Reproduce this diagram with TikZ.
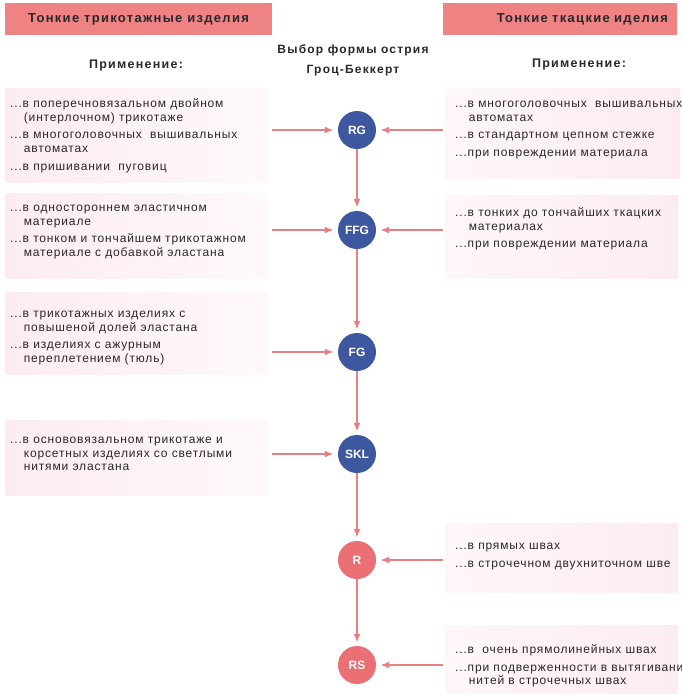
\documentclass[tikz,border=0pt]{standalone}
\usepackage{fontspec}
\setmainfont{Liberation Sans}
\newfontfamily\bodyf[LetterSpace=7]{Liberation Sans}
\newfontfamily\headf[LetterSpace=10]{Liberation Sans}
\usetikzlibrary{arrows.meta}
\definecolor{hdrpink}{RGB}{239,131,131}
\definecolor{boxpink}{RGB}{252,236,240}
\definecolor{cblue}{RGB}{62,88,160}
\definecolor{cpink}{RGB}{234,112,117}
\definecolor{arrc}{RGB}{232,128,130}
\definecolor{txtc}{RGB}{40,40,45}
\newcommand\ind{\hphantom{...}\,}
\newcommand\fl{\rule{0pt}{9pt}}
\begin{document}
\begin{tikzpicture}[x=1pt,y=-1pt,
  hdrbox/.style={fill=hdrpink, minimum height=32pt, inner sep=0pt, font=\headf\bfseries\fontsize{13}{15}\selectfont, text=txtc},
  ttl/.style={font=\headf\bfseries\fontsize{12.5}{15}\selectfont, text=txtc, inner sep=0pt},
  txt/.style={font=\bodyf\fontsize{12}{13.8}\selectfont, align=left, inner sep=0pt, anchor=north west, text=txtc},
  lbox/.style={left color=boxpink, right color=boxpink!35!white},
  rbox/.style={right color=boxpink, left color=boxpink!45!white},
  circ/.style={circle, minimum size=38pt, inner sep=0pt, text=white, font=\bfseries\fontsize{12}{14}\selectfont},
  arr/.style={draw=arrc, line width=1.8pt, -{Latex[length=9pt,width=7pt]}, shorten >=4pt}
]
\useasboundingbox (0,0) rectangle (682,699);
\fill[white] (0,0) rectangle (682,699);

% headers
\node[hdrbox, minimum width=267pt] (hl) at (138.5,19) {Тонкие трикотажные изделия};
\node[hdrbox, text width=216pt, inner xsep=9pt, align=right] (hr) at (560,19) {Тонкие ткацкие иделия};
\node[ttl, align=center, font=\headf\bfseries\fontsize{12}{20}\selectfont] (title) at (353,60) {Выбор формы острия\\Гроц-Беккерт};
\node[ttl] (apl) at (136,65) {Применение:};
\node[ttl] (apr) at (579,64) {Применение:};

% background boxes
\fill[lbox] (5,88) rectangle (268,182);
\fill[lbox] (5,193) rectangle (268,278);
\fill[lbox] (5,292) rectangle (268,374);
\fill[lbox] (5,420) rectangle (268,495);
\fill[rbox] (445,88) rectangle (680,178);
\fill[rbox] (445,195) rectangle (678,278);
\fill[rbox] (445,523) rectangle (678,592);
\fill[rbox] (445,625) rectangle (678,693);

% left texts
\node[txt] (l1) at (10,98) {\fl...в поперечновязальном двойном\\\ind(интерлочном) трикотаже\\[4pt]...в многоголовочных\ \ вышивальных\\\ind автоматах\\[4pt]...в пришивании\ \ пуговиц};
\node[txt] (l2) at (10,202) {\fl...в одностороннем эластичном\\\ind материале\\[4pt]...в тонком и тончайшем трикотажном\\\ind материале с добавкой эластана};
\node[txt] (l3) at (10,308) {\fl...в трикотажных изделиях с\\\ind повышеной долей эластана\\[4pt]...в изделиях с ажурным\\\ind переплетением (тюль)};
\node[txt] (l4) at (10,434) {\fl...в основовязальном трикотаже и\\\ind корсетных изделиях со светлыми\\\ind нитями эластана};

% right texts
\node[txt] (r1) at (455,98) {\fl...в многоголовочных\ \ вышивальных\\\ind автоматах\\[4pt]...в стандартном цепном стежке\\[4pt]...при повреждении материала};
\node[txt] (r2) at (455,207) {\fl...в тонких до тончайших ткацких\\\ind материалах\\[4pt]...при повреждении материала};
\node[txt] (r5) at (455,540) {\fl...в прямых швах\\[4pt]...в строчечном двухниточном шве};
\node[txt] (r6) at (455,644) {\fl...в \ очень прямолинейных швах\\[4pt]...при подверженности в вытягивани\\\ind нитей в строчечных швах};

% circles
\node[circ, fill=cblue] (rg) at (357,130) {RG};
\node[circ, fill=cblue] (ffg) at (357,230) {FFG};
\node[circ, fill=cblue] (fg) at (357,352) {FG};
\node[circ, fill=cblue] (skl) at (357,454) {SKL};
\node[circ, fill=cpink] (r) at (357,560) {R};
\node[circ, fill=cpink] (rs) at (357,665) {RS};

% vertical arrows
\draw[arr, shorten >=3pt] (rg) -- (ffg);
\draw[arr, shorten >=3pt] (ffg) -- (fg);
\draw[arr, shorten >=3pt] (fg) -- (skl);
\draw[arr, shorten >=3pt] (skl) -- (r);
\draw[arr, shorten >=3pt] (r) -- (rs);

% horizontal arrows
\coordinate (la) at (272,130);
\coordinate (lb) at (272,230);
\coordinate (lc) at (272,352);
\coordinate (ld) at (272,454);
\coordinate (ra) at (443,130);
\coordinate (rb) at (443,230);
\coordinate (re) at (443,560);
\coordinate (rf) at (443,665);
\draw[arr] (la) -- (rg);
\draw[arr] (lb) -- (ffg);
\draw[arr] (lc) -- (fg);
\draw[arr] (ld) -- (skl);
\draw[arr] (ra) -- (rg);
\draw[arr] (rb) -- (ffg);
\draw[arr] (re) -- (r);
\draw[arr] (rf) -- (rs);
\end{tikzpicture}
\end{document}
